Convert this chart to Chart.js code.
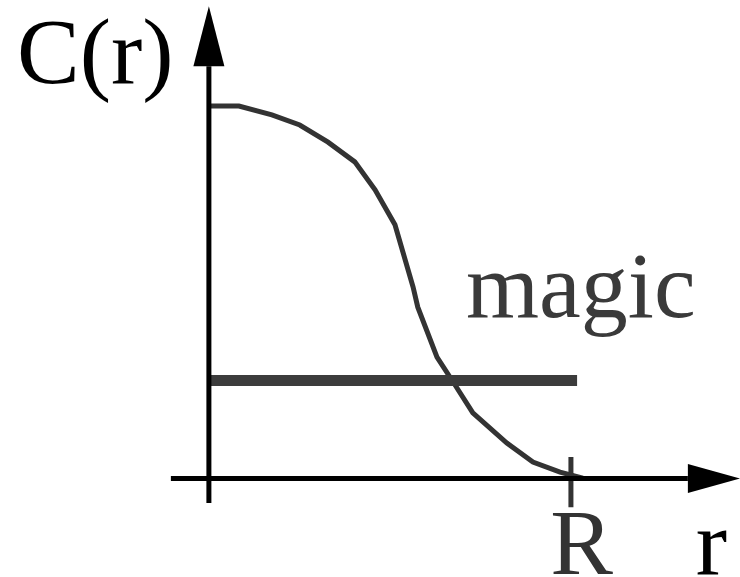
<!DOCTYPE html>
<html><head>
<script src="https://cdn.jsdelivr.net/npm/chart.js@4.4.1/dist/chart.umd.min.js"></script>
<style>
  body { margin: 0; }
  #wrap { position: relative; width: 740px; height: 577px; }
  .lbl { position: absolute; font-family: "Liberation Serif", "Times New Roman", serif; font-size: 94px; line-height: 94px; white-space: nowrap; margin: 0; }
</style>
</head><body>
<div id="wrap"><canvas id="sketch" width="740" height="577"></canvas></div>
<script>
// curve C(r) (r in units of R, C in units of C(0))
var curveR = [0, 0.083, 0.174, 0.251, 0.329, 0.403, 0.459, 0.514, 0.564, 0.577, 0.630, 0.680, 0.729, 0.823, 0.895, 0.970, 1.033];
var curveC = [1, 1.0, 0.976, 0.949, 0.903, 0.850, 0.775, 0.681, 0.514, 0.460, 0.326, 0.251, 0.176, 0.095, 0.044, 0.017, 0.001];

// the "magic" level and how far it runs
var magicLevel = 0.263;
var magicEnd = 1.017;

// the R tick
var tickR = 1;

// labels and where their baselines sit (data units)
var labels = ["C(r)", "magic", "R", "r"];
var labelX = [-0.530, 0.710, 0.943, 1.345];
var labelY = [1.062, 0.434, -0.2564, -0.2564];
var labelColor = ['#000', '#3a3a3a', '#333', '#000'];

// axis extents (data units)
var xAxisFrom = -0.105, xAxisTo = 1.323, xArrowTip = 1.467;
var yAxisFrom = -0.066, yAxisTo = 1.107, yArrowTip = 1.268;

function pts(xs, ys) {
    var out = [];
    for (var i = 0; i < xs.length; i++) out.push({x: xs[i], y: ys[i]});
    return out;
}

var arrows = {
    id: 'arrows',
    afterDatasetsDraw: function(chart) {
        var ctx = chart.ctx;
        var xs = chart.scales.x, ys = chart.scales.y;
        ctx.save();
        ctx.fillStyle = '#000';
        // y arrow
        var tipX = xs.getPixelForValue(0), tipY = ys.getPixelForValue(yArrowTip);
        var baseY = ys.getPixelForValue(yAxisTo);
        ctx.beginPath();
        ctx.moveTo(tipX, tipY);
        ctx.lineTo(tipX - 15.5, baseY);
        ctx.lineTo(tipX + 15.5, baseY);
        ctx.closePath();
        ctx.fill();
        // x arrow
        var tx = xs.getPixelForValue(xArrowTip), ty = ys.getPixelForValue(0);
        var bx = xs.getPixelForValue(xAxisTo);
        ctx.beginPath();
        ctx.moveTo(tx, ty);
        ctx.lineTo(bx, ty - 14.5);
        ctx.lineTo(bx, ty + 14.5);
        ctx.closePath();
        ctx.fill();
        ctx.restore();
    }
};

// labels as html text over the canvas, placed with the chart scales
var textLayer = {
    id: 'textLayer',
    afterRender: function(chart) {
        if (chart.$labelsDone) return;
        chart.$labelsDone = true;
        var xs = chart.scales.x, ys = chart.scales.y;
        var wrap = document.getElementById('wrap');
        // baseline sits about 0.837em below the top of a 1em line box in Liberation Serif
        var baseOff = 94 * 0.837;
        for (var i = 0; i < labels.length; i++) {
            var d = document.createElement('div');
            d.className = 'lbl';
            d.textContent = labels[i];
            d.style.color = labelColor[i];
            d.style.left = xs.getPixelForValue(labelX[i]) + 'px';
            d.style.top = (ys.getPixelForValue(labelY[i]) - baseOff) + 'px';
            wrap.appendChild(d);
        }
    }
};

new Chart(document.getElementById('sketch'), {
    type: 'scatter',
    data: {
        datasets: [
            {   // x axis line
                data: pts([xAxisFrom, xAxisTo], [0, 0]),
                showLine: true, borderColor: '#000', borderWidth: 5, pointRadius: 0
            },
            {   // y axis line
                data: pts([0, 0], [yAxisFrom, yAxisTo]),
                showLine: true, borderColor: '#000', borderWidth: 5, pointRadius: 0
            },
            {   // R tick
                data: pts([tickR, tickR], [0.058, -0.077]),
                showLine: true, borderColor: '#333', borderWidth: 5, pointRadius: 0
            },
            {   // magic level
                data: pts([0, magicEnd], [magicLevel, magicLevel]),
                showLine: true, borderColor: '#3c3c3c', borderWidth: 11, pointRadius: 0
            },
            {   // C(r)
                data: pts(curveR, curveC),
                showLine: true, borderColor: '#333', borderWidth: 5, pointRadius: 0,
                tension: 0, borderJoinStyle: 'miter'
            }
        ]
    },
    options: {
        responsive: false,
        animation: false,
        layout: { padding: 0 },
        plugins: {
            legend: { display: false },
            tooltip: { enabled: false }
        },
        scales: {
            x: { type: 'linear', display: false, min: -0.577, max: 1.467 },
            y: { type: 'linear', display: false, min: -0.2644, max: 1.2846 }
        }
    },
    plugins: [arrows, textLayer]
});
</script>
</body></html>
